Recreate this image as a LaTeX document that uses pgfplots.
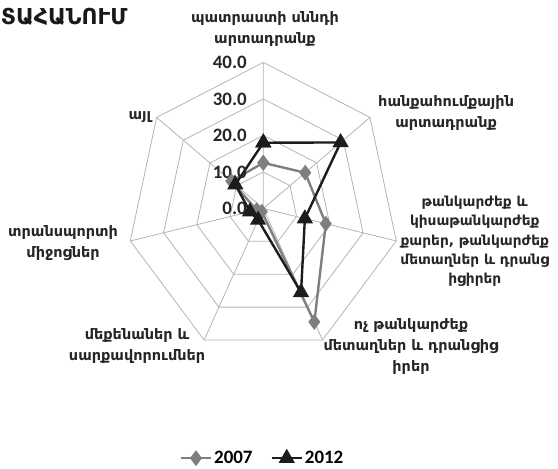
\documentclass[border=0pt]{standalone}
\usepackage{pgfplots}
\pgfplotsset{compat=1.18}
\usepackage{pgfplotstable}
\usepackage{fontspec}
\setmainfont{DejaVu Sans}
\newfontfamily\armfont{DejaVu Sans}
\newfontfamily\numfont{Carlito}

\definecolor{gridgray}{HTML}{B4B4B4}
\definecolor{s2007}{HTML}{7F7F7F}
\definecolor{s2012}{HTML}{1C1C1C}

% spoke angles (7 categories, clockwise from top)
\pgfplotstableread{
a r
90 40
38.571 40
-12.857 40
-64.286 40
-115.714 40
-167.143 40
-218.571 40
90 40
}\ring

\pgfplotstableread{
a r
90 0
90 40
38.571 0
38.571 40
-12.857 0
-12.857 40
-64.286 0
-64.286 40
-115.714 0
-115.714 40
-167.143 0
-167.143 40
-218.571 0
-218.571 40
}\spokes

% 2007
\pgfplotstableread{
a r
90 12.5
38.571 15.7
-12.857 18.8
-64.286 34.5
-115.714 1.0
-167.143 2.0
-218.571 12.0
90 12.5
}\yrA

% 2012
\pgfplotstableread{
a r
90 18.0
38.571 29.0
-12.857 12.5
-64.286 25.5
-115.714 3.5
-167.143 4.0
-218.571 10.5
90 18.0
}\yrB

\begin{document}
\begin{tikzpicture}[
    armlab/.style={font=\armfont\bfseries\fontsize{14.5}{21}\selectfont, align=center, text=black!85},
    ticklab/.style={font=\numfont\bfseries\fontsize{19}{19}\selectfont, anchor=east, text=black!85, inner sep=0pt},
]
\begin{axis}[
    x=3.41bp, y=3.65bp,
    xmin=-77.2, xmax=86.4, ymin=-71.2, ymax=57.1,
    hide axis, clip=false,
    legend style={at={(0.4705,0.0218)}, anchor=center, draw=none, fill=none,
        font=\numfont\bfseries\fontsize{19}{19}\selectfont},
    legend columns=2,
    legend image code/.code={\draw[#1, mark repeat=2, mark phase=2]
        plot coordinates {(0bp,0bp) (15bp,0bp) (30bp,0bp)};},
    /tikz/every even column/.append style={column sep=16bp},
]
% grid
\addplot[gridgray, line width=0.8bp, forget plot]
    table[x expr={\thisrow{r}*cos(\thisrow{a})}, y expr={\thisrow{r}*sin(\thisrow{a})}] {\spokes};
\pgfplotsinvokeforeach{10,20,30,40}{
\addplot[gridgray, line width=0.8bp, forget plot]
    table[x expr={#1*cos(\thisrow{a})}, y expr={#1*sin(\thisrow{a})}] {\ring};
}

% series
\addplot[s2007, line width=2.4bp, mark=diamond*, mark size=6bp, mark options={solid, fill=s2007}]
    table[x expr={\thisrow{r}*cos(\thisrow{a})}, y expr={\thisrow{r}*sin(\thisrow{a})}] {\yrA};
\addplot[s2012, line width=2.4bp, mark=triangle*, mark size=7bp, mark options={solid, fill=s2012}]
    table[x expr={\thisrow{r}*cos(\thisrow{a})}, y expr={\thisrow{r}*sin(\thisrow{a})}] {\yrB};
\legend{2007, 2012}

% radial tick labels
\node[ticklab] at (axis cs:-4.8,40) {40.0};
\node[ticklab] at (axis cs:-4.8,30) {30.0};
\node[ticklab] at (axis cs:-4.8,20) {20.0};
\node[ticklab] at (axis cs:-4.8,10) {10.0};
\node[ticklab] at (axis cs:-4.8,0) {0.0};

% category labels
\node[armlab] at (axis cs:0.5,49.2) {պատրաստի սննդի\\արտադրանք};
\node[armlab] at (axis cs:53.6,26.2) {հանքահումքային\\արտադրանք};
\node[armlab, font=\armfont\bfseries\fontsize{13.8}{19.5}\selectfont] at (axis cs:62.0,-9.0)
    {թանկարժեք և\\կիսաթանկարժեք\\քարեր, թանկարժեք\\մետաղներ և դրանց\\իցիրեր};
\node[armlab] at (axis cs:43.3,-37.9) {ոչ թանկարժեք\\մետաղներ և դրանցից\\իրեր};
\node[armlab] at (axis cs:-37.0,-37.6) {մեքենաներ և\\սարքավորումներ};
\node[armlab] at (axis cs:-58.7,-9.5) {տրանսպորտի\\միջոցներ};
\node[armlab] at (axis cs:-36.2,25.0) {այլ};

% title
\node[anchor=west, font=\armfont\bfseries\fontsize{22}{22}\selectfont, inner sep=0pt, text=black!90]
    at (axis cs:-77.0,52.4) {ՏԱՀԱՆՈՒՄ};

\coordinate (bl) at (axis cs:-77.2,-71.2);
\coordinate (tr) at (axis cs:86.4,57.1);
\end{axis}
\pgfresetboundingbox
\path[use as bounding box] (bl) rectangle (tr);
\end{tikzpicture}
\end{document}
